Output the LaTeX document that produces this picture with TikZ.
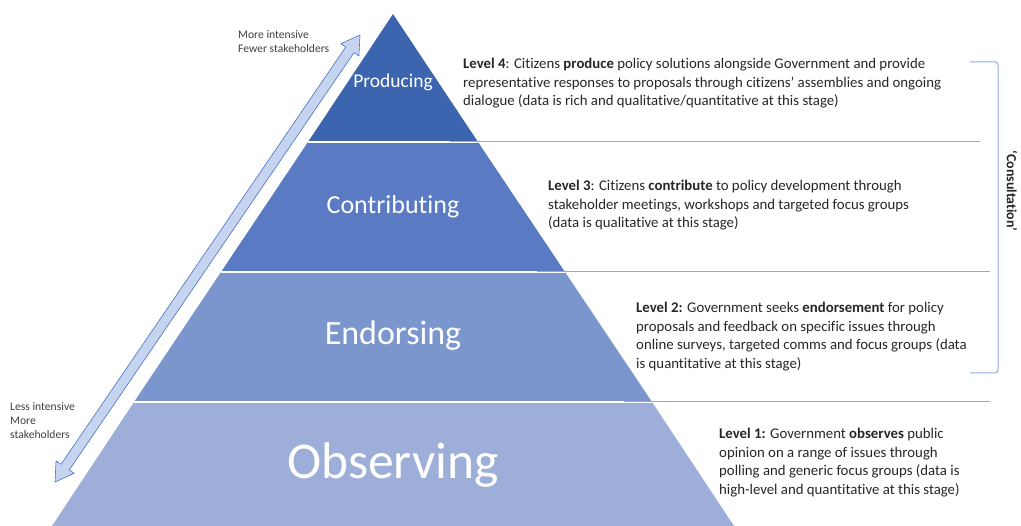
\documentclass[tikz,border=0pt]{standalone}
\usepackage{fontspec}
\setmainfont{Carlito}[Ligatures=NoCommon]
\usetikzlibrary{calc}
\definecolor{lvlfour}{HTML}{3D65AF}
\definecolor{lvlthree}{HTML}{5A7BC3}
\definecolor{lvltwo}{HTML}{7B95CD}
\definecolor{lvlone}{HTML}{9DAED8}
\definecolor{lineblue}{HTML}{8FAADC}
\definecolor{arrowfill}{HTML}{C7D4F0}
\definecolor{arrowline}{HTML}{4472C4}
\begin{document}
\begin{tikzpicture}[x=1pt,y=-1pt,
  desc/.style={anchor=north west,inner sep=0pt,align=left,text=black!85,font=\fontsize{14.8}{18.6}\selectfont},
  side/.style={anchor=north west,inner sep=0pt,align=left,text=black!75,font=\fontsize{11.6}{14.3}\selectfont},
  lvl/.style={text=white},
  divider/.style={white,line width=1.5pt},
  rule/.style={draw=lineblue,line width=1pt}]
\useasboundingbox (0,0) rectangle (1021,526);
\coordinate (apex) at (393,14);
\coordinate (l4) at (308,142);\coordinate (r4) at (478,142);
\coordinate (l3) at (221,272);\coordinate (r3) at (565,272);
\coordinate (l2) at (134,402);\coordinate (r2) at (652,402);
\coordinate (l1) at (52,526);\coordinate (r1) at (734,526);
\fill[lvlfour] (apex) -- (r4) -- (l4) -- cycle;
\fill[lvlthree] (l4) -- (r4) -- (r3) -- (l3) -- cycle;
\fill[lvltwo] (l3) -- (r3) -- (r2) -- (l2) -- cycle;
\fill[lvlone] (l2) -- (r2) -- (r1) -- (l1) -- cycle;
\draw[divider] (l4) -- (r4);
\draw[divider] (l3) -- (r3);
\draw[divider] (l2) -- (r2);
\draw[rule] (450,142) -- (980,142);
\draw[rule] (537,272) -- (990,272);
\draw[rule] (624,402) -- (990,402);
\draw[rule,rounded corners=3pt] (970,62) -- (998,62) -- (998,373) -- (970,373);
\node[lvl,font=\fontsize{19.5}{19.5}\selectfont] (producing) at (393,82) {Producing};
\node[lvl,font=\fontsize{26}{26}\selectfont] (contributing) at (393,207) {Contributing};
\node[lvl,font=\fontsize{34}{34}\selectfont] (endorsing) at (393,336) {Endorsing};
\node[lvl,font=\fontsize{51.5}{51.5}\selectfont] (observing) at (393,465) {Observing};
\coordinate (lo) at (55,482);
\coordinate (hi) at (360,35);
\coordinate (lb) at ($(lo)!18pt!(hi)$);
\coordinate (hb) at ($(hi)!18pt!(lo)$);
\filldraw[fill=arrowfill,draw=arrowline,line width=0.6pt,line join=round]
  (lo) -- ($(lb)!11pt!90:(hi)$) -- ($(lb)!5pt!90:(hi)$) -- ($(hb)!5pt!-90:(lo)$)
  -- ($(hb)!11pt!-90:(lo)$) -- (hi) -- ($(hb)!11pt!90:(lo)$) -- ($(hb)!5pt!90:(lo)$)
  -- ($(lb)!5pt!-90:(hi)$) -- ($(lb)!11pt!-90:(hi)$) -- cycle;
\node[side] (more) at (238,30) {More intensive\\Fewer stakeholders};
\node[side] (less) at (10,402) {Less intensive\\More\\stakeholders};
\node[desc] (lvl4) at (463,58) {\textbf{Level 4}: Citizens \textbf{produce} policy solutions alongside Government and provide\\representative responses to proposals through citizens’ assemblies and ongoing\\dialogue (data is rich and qualitative/quantitative at this stage)};
\node[desc] (lvl3) at (548,180) {\textbf{Level 3}: Citizens \textbf{contribute} to policy development through\\stakeholder meetings, workshops and targeted focus groups\\(data is qualitative at this stage)};
\node[desc] (lvl2) at (636,302) {\textbf{Level 2:} Government seeks \textbf{endorsement} for policy\\proposals and feedback on specific issues through\\online surveys, targeted comms and focus groups (data\\is quantitative at this stage)};
\node[desc] (lvl1) at (719,428) {\textbf{Level 1:} Government \textbf{observes} public\\opinion on a range of issues through\\polling and generic focus groups (data is\\high-level and quantitative at this stage)};
\node[rotate=-90,text=black!85,font=\bfseries\fontsize{14}{14}\selectfont] (consult) at (1012,191) {‘Consultation’};
\end{tikzpicture}
\end{document}
